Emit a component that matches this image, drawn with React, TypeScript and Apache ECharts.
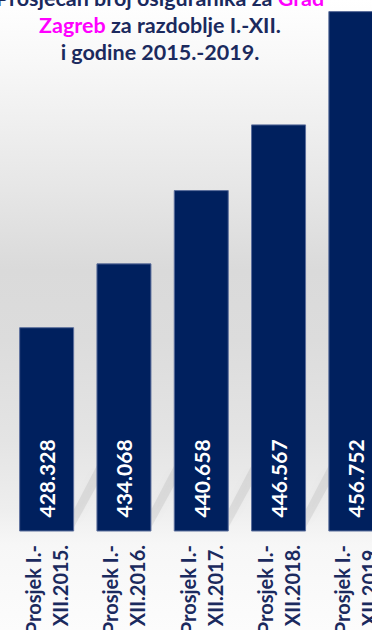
import React, { useEffect, useRef } from "react";
import * as echarts from "echarts";

const categories = [
  "Prosjek I.-\nXII.2015.",
  "Prosjek I.-\nXII.2016.",
  "Prosjek I.-\nXII.2017.",
  "Prosjek I.-\nXII.2018.",
  "Prosjek I.-\nXII.2019.",
];
const values = [428328, 434068, 440658, 446567, 456752];
const yMin = 410000;
const yMax = 460000;

const NAVY = "#1b2a5e";
const BAR = "#00205e";
const FONT = "Lato, 'Open Sans', sans-serif";
const BAR_W = 55;

function fmt(v: number) {
  return (v / 1000).toFixed(3);
}

export default function App() {
  const ref = useRef<HTMLDivElement>(null);
  useEffect(() => {
    if (!ref.current) return;
    const chart = echarts.init(ref.current, undefined, { renderer: "svg" });
    chart.setOption({
      animation: false,
      backgroundColor: "transparent",
      title: {
        text:
          "{a|Prosječan broj osiguranika za }{m|Grad}\n{m|Zagreb}{a| za razdoblje I.-XII.}\n{a|i godine 2015.-2019.}",
        left: 155,
        top: -21,
        textAlign: "center",
        textStyle: {
          rich: {
            a: { fontFamily: FONT, fontWeight: "bold", fontSize: 21.5, color: NAVY, lineHeight: 27 },
            m: { fontFamily: FONT, fontWeight: "bold", fontSize: 21.5, color: "#ff00ff", lineHeight: 27 },
          },
        },
      },
      grid: {
        left: 8,
        top: -25,
        width: 386.5,
        height: 556,
        containLabel: false,
        outerBoundsMode: "none",
      },
      xAxis: {
        type: "category",
        data: categories,
        axisLine: { show: false },
        axisTick: { show: false },
        splitLine: { show: false },
        axisLabel: {
          rotate: 90,
          margin: 14,
          interval: 0,
          fontFamily: FONT,
          fontWeight: "bold",
          fontSize: 20,
          lineHeight: 27,
          color: NAVY,
        },
      },
      yAxis: { type: "value", min: yMin, max: yMax, show: false, splitLine: { show: false } },
      series: [
        {
          type: "custom",
          z: 1,
          silent: true,
          clip: false,
          data: values.map((v, i) => [i, v]),
          renderItem: (params: any, api: any) => {
            const i = api.value(0);
            const base = api.coord([i, yMin]);
            const x1 = base[0] + BAR_W / 2;
            const b = base[1];
            return {
              type: "polygon",
              shape: {
                points: [
                  [x1, b - 4],
                  [x1, b - 22],
                  [x1 + 23, b - 66],
                  [x1 + 23, b - 46],
                ],
              },
              style: {
                fill: "rgba(0,0,0,0.07)",
                shadowBlur: 10,
                shadowColor: "rgba(0,0,0,0.22)",
              },
            };
          },
        },
        {
          type: "bar",
          z: 2,
          data: values,
          barWidth: BAR_W,
          itemStyle: { color: BAR, borderColor: "#5b6e9c", borderWidth: 1 },
          label: {
            show: true,
            position: "insideBottom",
            rotate: 90,
            align: "left",
            verticalAlign: "middle",
            distance: 14,
            formatter: (p: any) => fmt(p.value),
            color: "#ffffff",
            fontFamily: FONT,
            fontWeight: "bold",
            fontSize: 21,
          },
        },
      ],
    });
    return () => chart.dispose();
  }, []);
  return (
    <div
      ref={ref}
      style={{
        position: "fixed",
        left: 0,
        top: 0,
        width: 372,
        height: 630,
        overflow: "hidden",
        background:
          "linear-gradient(to bottom, #ffffff 0px, #f8f8f8 60px, #e6e6e6 190px, #dadada 270px, #dcdcdc 340px, #e4e4e4 440px, #eeeeee 510px, #f7f7f7 545px, #fcfcfc 630px)",
      }}
    />
  );
}
